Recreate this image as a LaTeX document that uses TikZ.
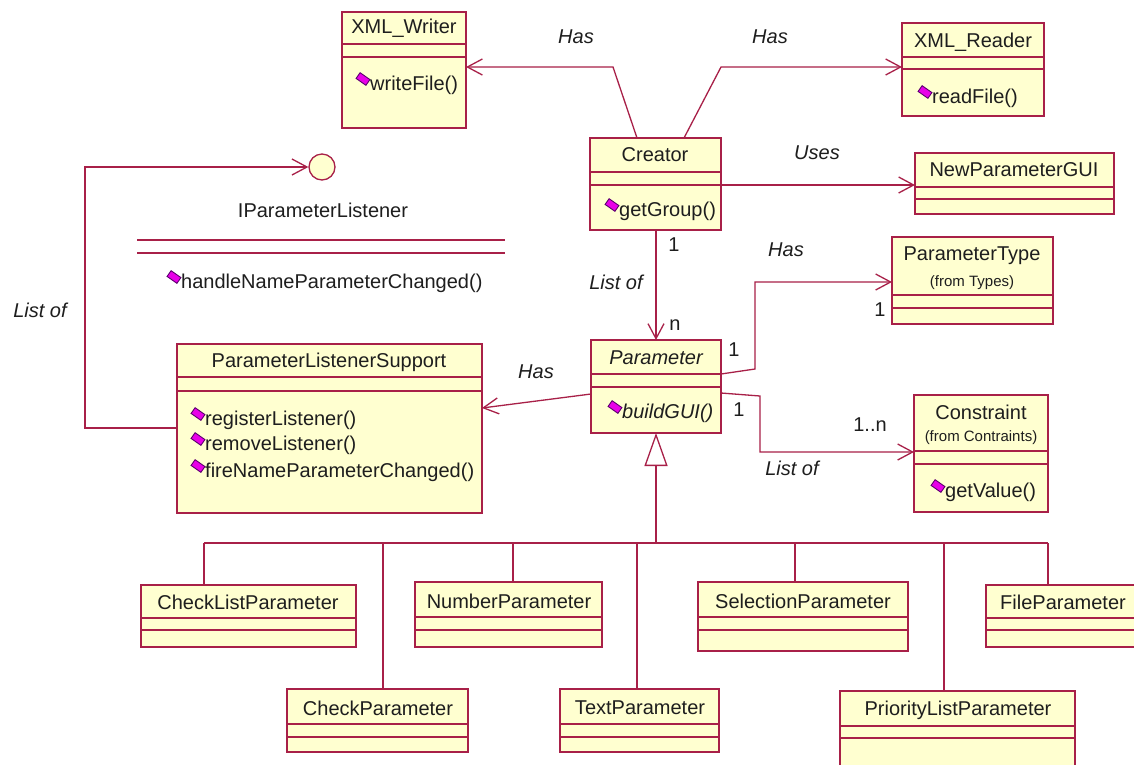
\documentclass[tikz,border=0pt]{standalone}
\usepackage{fontspec}
\setmainfont{Liberation Sans}
\usetikzlibrary{arrows.meta}

\definecolor{umlred}{RGB}{168,32,72}
\definecolor{umlfill}{RGB}{255,255,208}
\definecolor{umlink}{RGB}{30,30,30}
\definecolor{iconfill}{RGB}{232,0,232}
\definecolor{iconedge}{RGB}{90,0,110}

\tikzset{
  classbox/.style={draw=umlred, fill=umlfill, line width=1.3pt, inner sep=0pt, outer sep=0pt},
  rule/.style={draw=umlred, line width=1.3pt},
  txt/.style={text=umlink, inner sep=0pt, font=\fontsize{20}{24}\selectfont},
  smalltxt/.style={text=umlink, inner sep=0pt, font=\fontsize{15}{18}\selectfont},
  lbl/.style={text=umlink, inner sep=0pt, font=\itshape\fontsize{20}{24}\selectfont},
  mult/.style={text=umlink, inner sep=0pt, font=\fontsize{20}{24}\selectfont},
  assoc/.style={rule, -{Straight Barb[length=15pt,width=16pt]}},
  gen/.style={rule, -{Triangle[open, length=33pt, width=23pt]}},
  opicon/.style={rectangle, rotate=-35, minimum width=12pt, minimum height=7pt,
                 inner sep=0pt, fill=iconfill, draw=iconedge, line width=0.9pt},
  optext/.style={txt, anchor=west},
}

% class box: name, left, top, right, bottom, first rule, second rule
\newcommand{\umlclass}[7]{%
  \node[classbox, minimum width={(#4-#2)*1pt}, minimum height={(#5-#3)*1pt}]
    (#1) at ({(#2+#4)/2},{(#3+#5)/2}) {};
  \draw[rule] (#2,#6) -- (#4,#6);
  \draw[rule] (#2,#7) -- (#4,#7);
}
% operation entry: name, text start x, y, text
\newcommand{\umlop}[4]{%
  \node[opicon] (#1-icon) at (#2-7,#3-6) {};
  \node[optext] (#1) at (#2,#3) {#4};
}

\begin{document}
\begin{tikzpicture}[x=1pt, y=-1pt]
\useasboundingbox (0,0) rectangle (1134,764);
\fill[white] (0,0) rectangle (1134,764);
\clip (0,0) rectangle (1134,764);

% ---------- classes ----------
\umlclass{xw}{342}{12}{466}{128}{44}{57}
\node[txt] (xw-name) at (404,28) {XML\_Writer};
\umlop{xw-op1}{370}{85}{writeFile()}

\umlclass{xr}{902}{23}{1044}{116}{57}{69}
\node[txt] (xr-name) at (973,42) {XML\_Reader};
\umlop{xr-op1}{932}{98}{readFile()}

\umlclass{cre}{590}{138}{721}{230}{172}{185}
\node[txt] (cre-name) at (655,155) {Creator};
\umlop{cre-op1}{619}{211}{getGroup()}

\umlclass{npg}{915}{153}{1114}{214}{187}{199}
\node[txt] (npg-name) at (1014,170) {NewParameterGUI};

% interface
\node[circle, draw=umlred, fill=umlfill, line width=1.3pt, minimum size=26pt, inner sep=0pt]
  (ipl) at (322,167) {};
\node[txt] (ipl-name) at (323,210) {IParameterListener};
\draw[rule] (137,240) -- (505,240);
\draw[rule] (137,253) -- (505,253);
\umlop{ipl-op1}{181}{283}{handleNameParameterChanged()}

\umlclass{pls}{177}{344}{482}{513}{377}{391}
\node[txt] (pls-name) at (329,362) {ParameterListenerSupport};
\umlop{pls-op1}{205}{420}{registerListener()}
\umlop{pls-op2}{205}{445}{removeListener()}
\umlop{pls-op3}{205}{472}{fireNameParameterChanged()}

\umlclass{par}{591}{340}{721}{433}{374}{387}
\node[txt, font=\itshape\fontsize{20}{24}\selectfont] (par-name) at (656,358) {Parameter};
\umlop{par-op1}{622}{413}{\itshape buildGUI()}

\umlclass{pt}{892}{237}{1053}{324}{295}{308}
\node[txt] (pt-name) at (972,256) {ParameterType};
\node[smalltxt] (pt-pkg) at (972,283) {(from Types)};

\umlclass{con}{914}{395}{1048}{512}{451}{464}
\node[txt] (con-name) at (981,412) {Constraint};
\node[smalltxt] (con-pkg) at (981,438) {(from Contraints)};
\umlop{con-op1}{945}{492}{getValue()}

% subclasses
\umlclass{clp}{141}{585}{356}{647}{618}{630}
\node[txt] (clp-name) at (248,602) {CheckListParameter};
\umlclass{nump}{415}{582}{602}{647}{617}{630}
\node[txt] (nump-name) at (509,601) {NumberParameter};
\umlclass{selp}{698}{582}{908}{651}{617}{630}
\node[txt] (selp-name) at (803,601) {SelectionParameter};
\umlclass{filep}{986}{585}{1160}{647}{618}{630}
\node[txt] (filep-name) at (1063,602) {FileParameter};
\umlclass{chkp}{287}{689}{468}{752}{724}{737}
\node[txt] (chkp-name) at (378,708) {CheckParameter};
\umlclass{txtp}{560}{689}{719}{752}{724}{737}
\node[txt] (txtp-name) at (640,708) {TextParameter};
\umlclass{plp}{840}{691}{1075}{790}{726}{738}
\node[txt] (plp-name) at (958,710) {PriorityListParameter};

% ---------- associations ----------
\draw[assoc] ([xshift=47pt]cre.north west) -- (613,67) -- (xw.east |- 613,67);
\draw[assoc] ([xshift=94pt]cre.north west) -- (721,67) -- (xr.west |- 721,67);
\draw[assoc] (cre.east |- 0,185) -- (npg.west |- 0,185);
\draw[assoc] (pls.west |- 0,428) -- (85,428) -- (85,167) -- (ipl.west);
\draw[assoc] (par.north |- cre.south) -- (par.north);
\draw[assoc] (par.west |- 0,394) -- (pls.east |- 0,408);
\draw[assoc] (par.east |- 0,374) -- (755,369) -- (755,282) -- (pt.west |- 0,282);
\draw[assoc] (par.east |- 0,393) -- (760,396) -- (760,452) -- (con.west |- 0,452);

% ---------- generalization ----------
\coordinate (bus) at (par.south |- 0,543);
\draw[gen] (bus) -- (par.south);
\draw[rule] (204,543) -- (1048,543);
\draw[rule] (204,543) -- (clp.north -| 204,0);
\draw[rule] (383,543) -- (chkp.north -| 383,0);
\draw[rule] (513,543) -- (nump.north -| 513,0);
\draw[rule] (637,543) -- (txtp.north -| 637,0);
\draw[rule] (795,543) -- (selp.north -| 795,0);
\draw[rule] (944,543) -- (plp.north -| 944,0);
\draw[rule] (1048,543) -- (filep.north -| 1048,0);

% ---------- labels ----------
\node[lbl] (l-has1) at (576,37) {Has};
\node[lbl] (l-has2) at (770,37) {Has};
\node[lbl] (l-uses) at (817,153) {Uses};
\node[lbl] (l-list1) at (40,310) {List of};
\node[lbl] (l-list2) at (616,282) {List of};
\node[lbl] (l-has3) at (786,250) {Has};
\node[lbl] (l-has4) at (536,372) {Has};
\node[lbl] (l-list3) at (792,468) {List of};

\node[mult] (m1) at (674,245) {1};
\node[mult] (m2) at (675,325) {n};
\node[mult] (m3) at (734,350) {1};
\node[mult] (m4) at (880,310) {1};
\node[mult] (m5) at (739,410) {1};
\node[mult] (m6) at (870,425) {1..n};
\end{tikzpicture}
\end{document}
